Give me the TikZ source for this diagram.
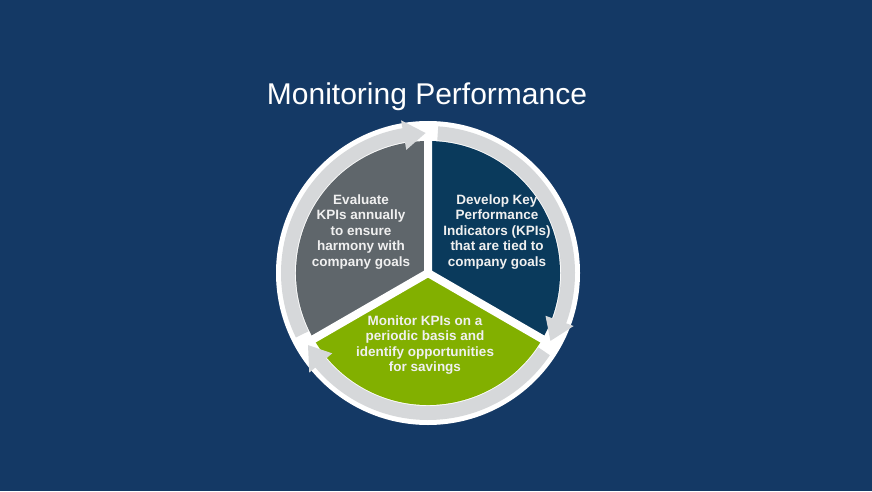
\documentclass[tikz,border=0pt]{standalone}
\usepackage{fontspec}
\setmainfont{Liberation Sans}
\usetikzlibrary{calc}
\definecolor{bg}{RGB}{20,57,101}
\definecolor{navy}{RGB}{10,58,92}
\definecolor{slate}{RGB}{95,102,107}
\definecolor{lime}{RGB}{130,176,0}
\definecolor{ringc}{RGB}{214,216,218}
\definecolor{txt}{RGB}{240,240,240}
\begin{document}
\begin{tikzpicture}[x=1pt,y=1pt,
  lbl/.style={text=txt,font=\fontsize{13.5}{15.5}\selectfont\bfseries,align=center},
  ringarrow/.style={fill=ringc,draw=none}]
\fill[bg] (0,0) rectangle (872,491);
\useasboundingbox (0,0) rectangle (872,491);
\coordinate (c) at (428,218);
\fill[white] (c) circle (152);
% sectors
\fill[navy] (c) -- ++(90:132) arc(90:-30:132) -- cycle;
\fill[lime] (c) -- ++(-30:132) arc(-30:-150:132) -- cycle;
\fill[slate] (c) -- ++(210:132) arc(210:90:132) -- cycle;
\draw[white,line width=8pt] (c) -- ++(90:134) (c) -- ++(-30:134) (c) -- ++(210:134);
% ring arrows
\foreach \s in {90,-30,210}{
  \pgfmathsetmacro\a{\s-4}
  \pgfmathsetmacro\t{\s-119}
  \pgfmathsetmacro\h{\t+9}
  \fill[ringarrow] ($(c)+(\a:147)$) arc(\a:\h:147) -- ($(c)+(\h:155)$) -- ($(c)+(\t:140)$)
    -- ($(c)+(\h:125)$) -- ($(c)+(\h:133)$) arc(\h:\a:133) -- cycle;
}
\node[text=white,font=\fontsize{30}{34}\selectfont] (title) at (427,394) {Monitoring Performance};
\node[lbl] (l) at (361,259) {Evaluate\\KPIs annually\\to ensure\\harmony with\\company goals};
\node[lbl] (r) at (497,259) {Develop Key\\Performance\\Indicators (KPIs)\\that are tied to\\company goals};
\node[lbl] (b) at (425,146) {Monitor KPIs on a\\periodic basis and\\identify opportunities\\for savings};
\end{tikzpicture}
\end{document}
